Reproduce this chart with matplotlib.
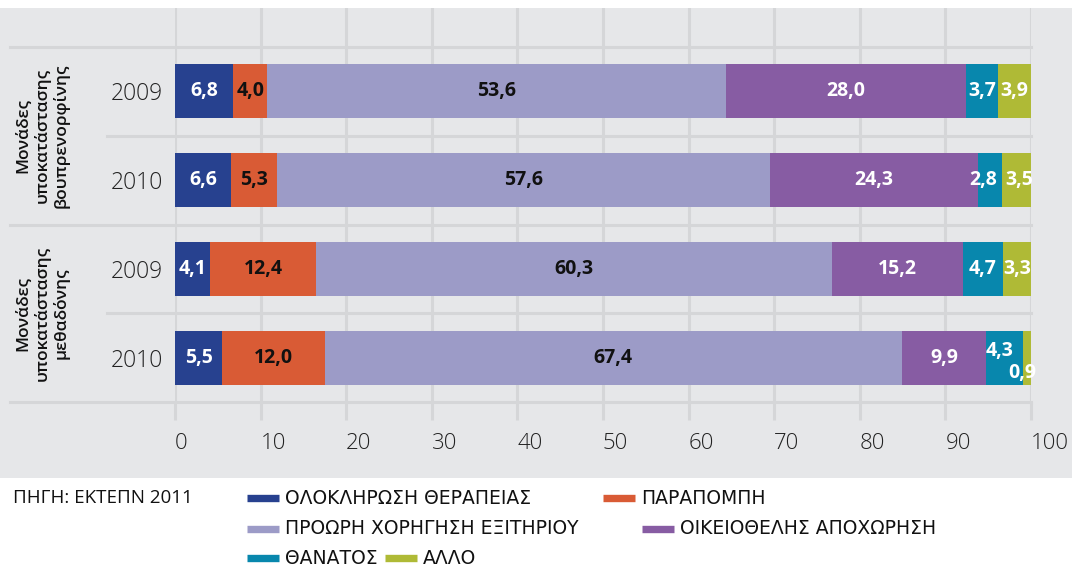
import matplotlib
matplotlib.use("Agg")
import matplotlib.pyplot as plt
from matplotlib.patches import Rectangle
from matplotlib.lines import Line2D
import matplotlib.transforms as mtransforms
import numpy as np

plt.rcParams['font.family'] = ['Open Sans', 'DejaVu Sans']

# ---- data ----
years = ["2009", "2010", "2009", "2010"]
groups = ["Μονάδες\nυποκατάστασης\nβουπρενορφίνης", "Μονάδες\nυποκατάστασης\nμεθαδόνης"]
series_names = ["ΟΛΟΚΛΗΡΩΣΗ ΘΕΡΑΠΕΙΑΣ", "ΠΑΡΑΠΟΜΠΗ", "ΠΡΟΩΡΗ ΧΟΡΗΓΗΣΗ ΕΞΙΤΗΡΙΟΥ",
                "ΟΙΚΕΙΟΘΕΛΗΣ ΑΠΟΧΩΡΗΣΗ", "ΘΑΝΑΤΟΣ", "ΑΛΛΟ"]
completion = [6.8, 6.6, 4.1, 5.5]
referral = [4.0, 5.3, 12.4, 12.0]
early_discharge = [53.6, 57.6, 60.3, 67.4]
voluntary_exit = [28.0, 24.3, 15.2, 9.9]
death = [3.7, 2.8, 4.7, 4.3]
other = [3.9, 3.5, 3.3, 0.9]
x_ticks = [0, 10, 20, 30, 40, 50, 60, 70, 80, 90, 100]
source_text = "ΠΗΓΗ: ΕΚΤΕΠΝ 2011"

series = [completion, referral, early_discharge, voluntary_exit, death, other]
colors = ["#27418f", "#d95b35", "#9c9bc7", "#875ca3", "#0887ad", "#afba36"]
text_colors = ["white", "#111111", "#111111", "white", "white", "white"]

BG = "#e6e7e9"
GRID = "#d5d6d8"

W, H = 1072, 567
fig = plt.figure(figsize=(W / 100, H / 100), dpi=100)
fig.patch.set_facecolor("white")
fig.patches.append(Rectangle((0, 1 - 478 / H), 1, (478 - 8) / H, transform=fig.transFigure,
                             facecolor=BG, edgecolor="none", zorder=-10))

ax = fig.add_axes([175 / W, 1 - 402 / H, 856 / W, (402 - 8) / H])
ax.set_facecolor("none")
for s in ax.spines.values():
    s.set_visible(False)

ax.set_xlim(0, 100)
ax.set_ylim(3.5, -0.94)

# vertical grid
for t in x_ticks:
    ax.axvline(t, color=GRID, lw=2.2, zorder=0)

# horizontal separators
blend = mtransforms.blended_transform_factory(ax.transAxes, ax.transData)
for yv, x0 in [(-0.5, -0.193), (0.5, -0.079), (1.5, -0.193), (2.5, -0.079), (3.5, -0.193)]:
    ax.add_line(Line2D([x0, 1.0], [yv, yv], transform=blend, color=GRID, lw=2.2,
                       clip_on=False, zorder=0))

ypos = np.arange(len(years))
left = np.zeros(len(years))
bar_h = 0.61
for k, vals in enumerate(series):
    vals = np.array(vals)
    ax.barh(ypos, vals, left=left, height=bar_h, color=colors[k], edgecolor="none",
            zorder=2, label=series_names[k])
    for i, v in enumerate(vals):
        cx = left[i] + v / 2
        cy = ypos[i]
        if i == 1 and k == 4:
            cx -= 0.8
        if i == 1 and k == 5:
            cx += 0.3
        if i == 3 and k == 4:
            cy -= 0.07
            cx -= 0.6
        if i == 3 and k == 5:
            cx = left[i] - 0.1
            cy += 0.17
        ax.text(cx, cy, f"{v:.1f}".replace(".", ","), ha="center", va="center",
                fontsize=14, fontweight="bold", color=text_colors[k], zorder=3)
    left += vals

ax.set_xticks(x_ticks)
ax.set_xticklabels([str(t) for t in x_ticks], fontsize=16, fontweight="light",
                   color="#222222", ha="left")
ax.tick_params(axis="x", length=13, width=2.2, color=GRID, pad=9)
ax.set_yticks(ypos)
ax.set_yticklabels(years, fontsize=16.5, fontweight="light", color="#222222")
ax.tick_params(axis="y", length=0, pad=9)

# group labels
for g, yc in zip(groups, [0.5, 2.5]):
    ax.text(-0.155, yc, g, transform=blend, rotation=90, ha="center", va="center",
            fontsize=12.5, fontweight="semibold", color="#111111", linespacing=1.15)

# source + legend
fig.text(13 / W, 1 - 498 / H, source_text, ha="left", va="center", fontsize=13.5, color="#111111")
legend_pos = [(247, 498), (603, 498), (247, 529), (642, 529), (247, 558), (385, 558)]
for k, (px, py) in enumerate(legend_pos):
    fig.add_artist(Line2D([px / W, (px + 32) / W], [1 - py / H, 1 - py / H],
                          transform=fig.transFigure, color=colors[k], lw=5.3,
                          solid_capstyle="butt"))
    fig.text((px + 38) / W, 1 - py / H, series_names[k], ha="left", va="center",
             fontsize=13.5, color="#111111", family=["DejaVu Sans"])

fig.savefig("out.png", dpi=100, facecolor="white")
